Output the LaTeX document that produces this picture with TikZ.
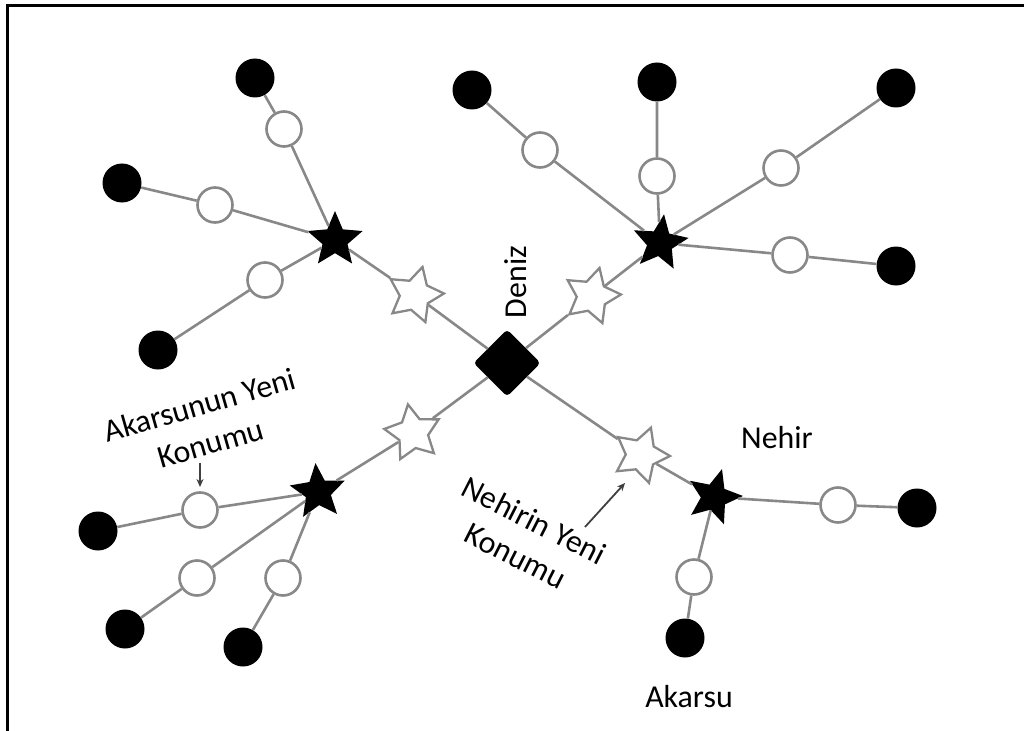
\documentclass[tikz,border=0pt]{standalone}
\usepackage{fontspec}
\setmainfont{Carlito}
\usetikzlibrary{shapes.geometric,arrows.meta}
\definecolor{linegray}{HTML}{888888}
\tikzset{
  link/.style={draw=linegray,line width=2.6bp},
  source/.style={circle,fill=black,draw=none,minimum size=39bp,inner sep=0pt},
  hollow/.style={circle,fill=white,draw=linegray,line width=2.6bp,minimum size=35bp,inner sep=0pt},
  junction/.style={star,star points=5,star point ratio=2.2,fill=black,draw=none,minimum size=58bp,inner sep=0pt},
  shifted/.style={star,star points=5,star point ratio=1.9,fill=white,draw=linegray,line width=2.3bp,minimum size=58bp,inner sep=0pt},
  sea/.style={diamond,fill=black,draw=black,line width=2bp,rounded corners=3bp,minimum size=65bp,inner sep=0pt},
  label/.style={font=\fontsize{32}{40}\selectfont,align=center,inner sep=0pt},
  pointer/.style={draw=black!75,line width=1.8bp,-{Stealth[length=8bp,width=7bp]}}
}
\begin{document}
\begin{tikzpicture}[x=1bp,y=-1bp]
\useasboundingbox (0,0) rectangle (1024,731);
% frame
\draw[line width=3bp] (7,731) -- (7,6) -- (1024,6);

% sea at the centre
\node[sea] (deniz) at (507,363) {};

% open stars on the four main arms
\node[shifted,rotate=-15] (ul) at (415,295) {};
\node[shifted,rotate=-15] (ur) at (592,296) {};
\node[shifted,rotate=10] (ll) at (413,433) {};
\node[shifted,rotate=-20] (lr) at (641,455) {};

% black junction stars
\node[junction] (A) at (335,240) {};
\node[junction,rotate=-8] (B) at (660,243) {};
\node[junction,rotate=5] (C) at (318,492) {};
\node[junction,rotate=-16] (D) at (714,497) {};

% upper-left branches
\node[hollow] (a1) at (284,129) {};
\node[source] (a1s) at (255,78) {};
\node[hollow] (a2) at (215,205) {};
\node[source] (a2s) at (122,183) {};
\node[hollow] (a3) at (265,280) {};
\node[source] (a3s) at (158,350) {};

% upper-right branches
\node[hollow] (b1) at (540,150) {};
\node[source] (b1s) at (472,90) {};
\node[hollow] (b2) at (657,176) {};
\node[source] (b2s) at (657,82) {};
\node[hollow] (b3) at (781,168) {};
\node[source] (b3s) at (896,88) {};
\node[hollow] (b4) at (790,255) {};
\node[source] (b4s) at (896,266) {};

% lower-left branches
\node[hollow] (c1) at (200,510) {};
\node[source] (c1s) at (98,531) {};
\node[hollow] (c2) at (197,578) {};
\node[source] (c2s) at (125,629) {};
\node[hollow] (c3) at (283,578) {};
\node[source] (c3s) at (243,647) {};

% lower-right branches
\node[hollow] (d1) at (838,505) {};
\node[source] (d1s) at (917,508) {};
\node[hollow] (d2) at (694,577) {};
\node[source] (d2s) at (685,638) {};

% main arms
\draw[link] (A) -- (ul) -- (deniz);
\draw[link] (B) -- (ur) -- (deniz);
\draw[link] (C) -- (ll) -- (deniz);
\draw[link] (D) -- (lr) -- (deniz);

% tributaries
\draw[link] (A) -- (a1) -- (a1s);
\draw[link] (A) -- (a2) -- (a2s);
\draw[link] (A) -- (a3) -- (a3s);
\draw[link] (B) -- (b1) -- (b1s);
\draw[link] (B) -- (b2) -- (b2s);
\draw[link] (B) -- (b3) -- (b3s);
\draw[link] (B) -- (b4) -- (b4s);
\draw[link] (C) -- (c1) -- (c1s);
\draw[link] (C) -- (c2) -- (c2s);
\draw[link] (C) -- (c3) -- (c3s);
\draw[link] (D) -- (d1) -- (d1s);
\draw[link] (D) -- (d2) -- (d2s);

% labels
\node[label,rotate=90] (tDeniz) at (516,282) {Deniz};
\node[label] (tNehir) at (777,438) {Nehir};
\node[label] (tAkarsu) at (689,697) {Akarsu};
\node[label,rotate=16] (tAkYeni) at (205,424) {Akarsunun Yeni\\Konumu};
\node[label,rotate=-27] (tNeYeni) at (525,538) {Nehirin Yeni\\Konumu};

% pointers to the new positions
\coordinate (p1) at (200,463);
\coordinate (p1e) at (200,487);
\draw[pointer] (p1) -- (p1e);
\coordinate (p2) at (585,527);
\coordinate (p2e) at (625,483);
\draw[pointer] (p2) -- (p2e);
\end{tikzpicture}
\end{document}
